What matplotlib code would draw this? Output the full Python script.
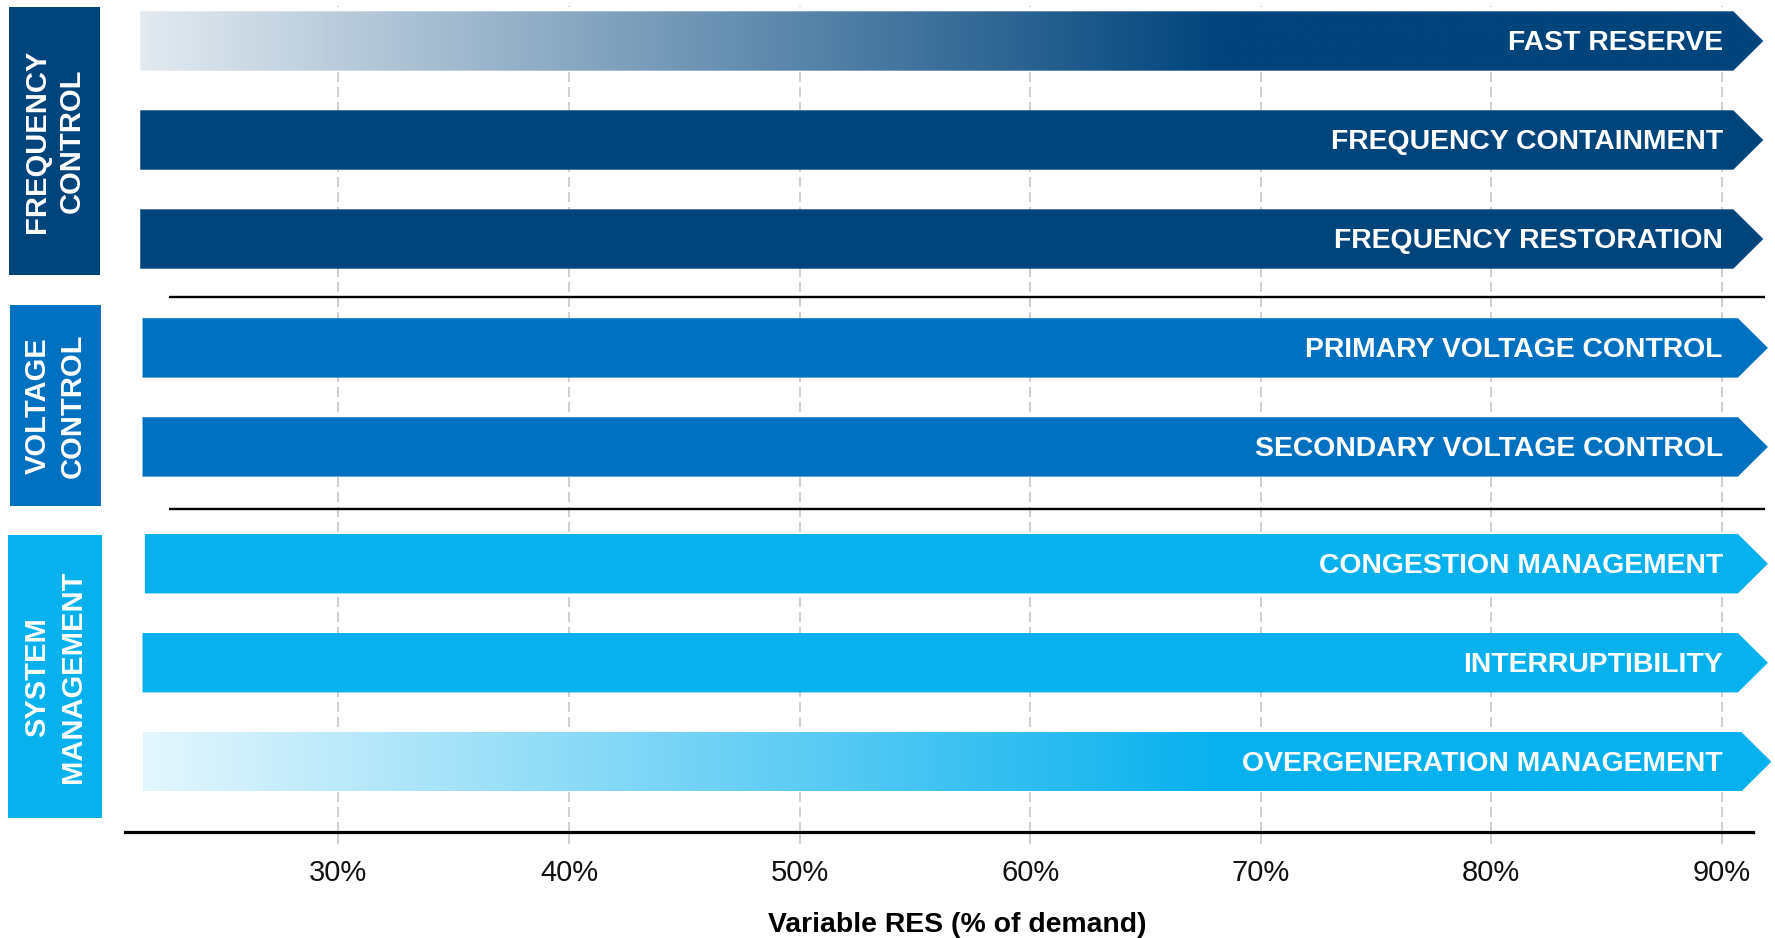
import numpy as np
import matplotlib
matplotlib.use("Agg")
import matplotlib.pyplot as plt
from matplotlib.patches import Polygon, Rectangle
from matplotlib.transforms import blended_transform_factory
from matplotlib.colors import to_rgb

plt.rcParams['font.family'] = ['Liberation Sans', 'DejaVu Sans']

# Services, top to bottom, with the share of variable RES they span
services = ["FAST RESERVE", "FREQUENCY CONTAINMENT", "FREQUENCY RESTORATION",
            "PRIMARY VOLTAGE CONTROL", "SECONDARY VOLTAGE CONTROL",
            "CONGESTION MANAGEMENT", "INTERRUPTIBILITY", "OVERGENERATION MANAGEMENT"]
service_group = [0, 0, 0, 1, 1, 2, 2, 2]
range_start = [21.4, 21.4, 21.4, 21.5, 21.5, 21.6, 21.5, 21.5]
range_end = [90.5, 90.5, 90.5, 90.7, 90.7, 90.7, 90.7, 90.85]
fades_in = [True, False, False, False, False, False, False, True]

groups = ["FREQUENCY\nCONTROL", "VOLTAGE\nCONTROL", "SYSTEM\nMANAGEMENT"]
group_colors = ["#00447c", "#0070c0", "#07b1ee"]

tick_values = [30, 40, 50, 60, 70, 80, 90]
tick_labels = ["30%", "40%", "50%", "60%", "70%", "80%", "90%"]
x_label = "Variable RES (% of demand)"

# ---- layout -------------------------------------------------------------
W, H = 1775, 938
fig = plt.figure(figsize=(W / 100, H / 100), dpi=100)
ax_top_px, ax_bot_px = 6, 832
ax = fig.add_axes([0, 1 - ax_bot_px / H, 1, (ax_bot_px - ax_top_px) / H])

group_offset = [0.0, 0.1, 0.28]
rows = [i + group_offset[g] for i, g in enumerate(service_group)]
bar_h = 0.6
tip = 1.3
label_x = 90.05
fade_full_at = 68.3
fade_floor = 0.11

for y, s, e, g, name, fade in zip(rows, range_start, range_end,
                                   service_group, services, fades_in):
    col = group_colors[g]
    verts = [(s, y - bar_h / 2), (e, y - bar_h / 2), (e + tip, y),
             (e, y + bar_h / 2), (s, y + bar_h / 2)]
    if fade:
        shape = Polygon(verts, closed=True, facecolor="none",
                        edgecolor="none", zorder=2)
        ax.add_patch(shape)
        xs = np.linspace(s, e + tip, 800)
        a = np.clip(fade_floor + (1 - fade_floor) * (xs - s) / (fade_full_at - s), 0, 1)
        rgb = np.array(to_rgb(col))
        img = (1 - a)[:, None] * np.ones(3) + a[:, None] * rgb
        img = img[None, :, :]
        im = ax.imshow(img, extent=(s, e + tip, y + bar_h / 2, y - bar_h / 2),
                       aspect="auto", interpolation="bilinear", zorder=2)
        im.set_clip_path(shape)
    else:
        ax.add_patch(Polygon(verts, closed=True, facecolor=col,
                             edgecolor="none", zorder=2))
    ax.text(label_x, y + 0.02, name, ha="right", va="center", color="white",
            fontsize=20.4, fontweight="bold", zorder=3)

# separators between service groups
for g in range(len(groups) - 1):
    last = max(r for r, gg in zip(rows, service_group) if gg == g)
    first = min(r for r, gg in zip(rows, service_group) if gg == g + 1)
    ax.hlines((last + first) / 2 + 0.035, 22.64, 91.88, color="black",
              lw=1.7, zorder=3)

# group boxes on the left
box_tf = blended_transform_factory(ax.transAxes, ax.transData)
box_x = [(9, 100), (10, 101), (8, 102)]
box_pad = [(0.34, 0.36), (0.43, 0.60), (0.29, 0.57)]
for g, (name, col) in enumerate(zip(groups, group_colors)):
    grows = [r for r, gg in zip(rows, service_group) if gg == g]
    top = min(grows) - box_pad[g][0]
    bot = max(grows) + box_pad[g][1]
    x0, x1 = box_x[g][0] / W, box_x[g][1] / W
    ax.add_patch(Rectangle((x0, top), x1 - x0, bot - top, transform=box_tf,
                           facecolor=col, edgecolor="none", clip_on=False, zorder=2))
    ax.text((x0 + x1) / 2, (top + bot) / 2, name, transform=box_tf,
            rotation=90, ha="center", va="center", multialignment="center",
            color="white", fontsize=21, fontweight="bold", linespacing=1.32,
            zorder=3)

# axes, grid and ticks
px_per_pct = (1721.8 - 338.5) / 60
x_left = 30 - 338.5 / px_per_pct
ax.set_xlim(x_left, x_left + W / px_per_pct)
ax.set_ylim((ax_bot_px - 41) / 99, (ax_top_px - 41) / 99)

ax.set_xticks(tick_values)
ax.set_xticklabels(tick_labels)
ax.set_yticks([])
ax.grid(axis="x", color="#c8c8c8", linestyle=(0, (6, 3)), linewidth=1.2)
ax.set_axisbelow(True)
ax.tick_params(axis="x", direction="out", length=8.5, width=1.2,
               color="#c8c8c8", pad=11, labelsize=21, labelcolor="#111111")
for side in ("top", "left", "right"):
    ax.spines[side].set_visible(False)
ax.spines["bottom"].set_bounds(20.76, 91.36)
ax.spines["bottom"].set_linewidth(2.3)
ax.spines["bottom"].set_color("black")
ax.set_facecolor("white")

ax.set_xlabel(x_label, fontsize=20.4, fontweight="bold", color="black")
ax.xaxis.set_label_coords(957 / W, -(912 - ax_bot_px) / (ax_bot_px - ax_top_px))
ax.xaxis.label.set_va("top")

fig.savefig("out.png", dpi=100, facecolor="white")
